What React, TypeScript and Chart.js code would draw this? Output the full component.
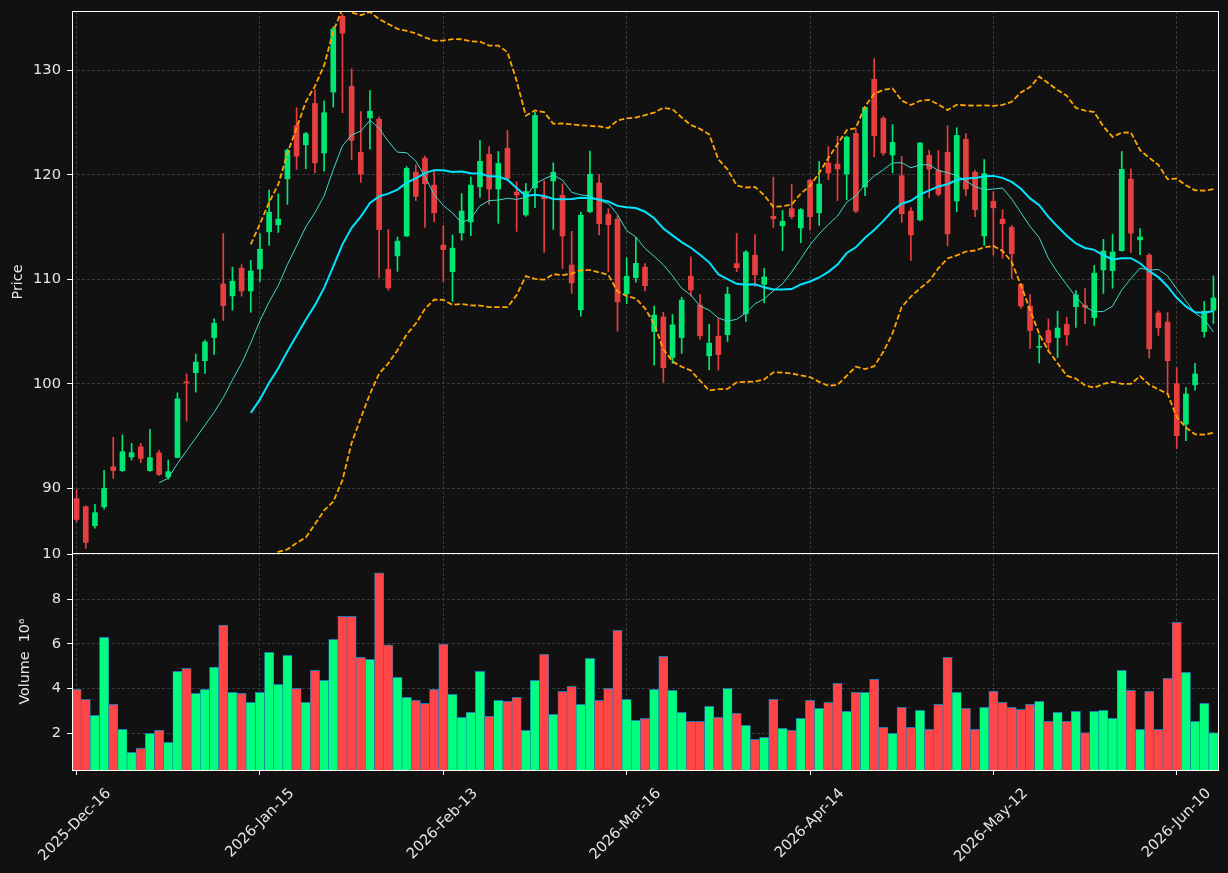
import React, { useEffect, useRef } from 'react';
import { Chart, registerables } from 'chart.js';

Chart.register(...registerables);

const DATES = [
  '2025-Dec-16','2025-Dec-17','2025-Dec-18','2025-Dec-19','2025-Dec-22','2025-Dec-23','2025-Dec-24','2025-Dec-26','2025-Dec-29','2025-Dec-30','2025-Dec-31',
  '2026-Jan-02','2026-Jan-05','2026-Jan-06','2026-Jan-07','2026-Jan-08','2026-Jan-09','2026-Jan-12','2026-Jan-13','2026-Jan-14','2026-Jan-15','2026-Jan-16','2026-Jan-20','2026-Jan-21','2026-Jan-22','2026-Jan-23','2026-Jan-26','2026-Jan-27','2026-Jan-28','2026-Jan-29','2026-Jan-30',
  '2026-Feb-02','2026-Feb-03','2026-Feb-04','2026-Feb-05','2026-Feb-06','2026-Feb-09','2026-Feb-10','2026-Feb-11','2026-Feb-12','2026-Feb-13','2026-Feb-17','2026-Feb-18','2026-Feb-19','2026-Feb-20','2026-Feb-23','2026-Feb-24','2026-Feb-25','2026-Feb-26','2026-Feb-27',
  '2026-Mar-02','2026-Mar-03','2026-Mar-04','2026-Mar-05','2026-Mar-06','2026-Mar-09','2026-Mar-10','2026-Mar-11','2026-Mar-12','2026-Mar-13','2026-Mar-16','2026-Mar-17','2026-Mar-18','2026-Mar-19','2026-Mar-20','2026-Mar-23','2026-Mar-24','2026-Mar-25','2026-Mar-26','2026-Mar-27','2026-Mar-30','2026-Mar-31',
  '2026-Apr-01','2026-Apr-02','2026-Apr-06','2026-Apr-07','2026-Apr-08','2026-Apr-09','2026-Apr-10','2026-Apr-13','2026-Apr-14','2026-Apr-15','2026-Apr-16','2026-Apr-17','2026-Apr-20','2026-Apr-21','2026-Apr-22','2026-Apr-23','2026-Apr-24','2026-Apr-27','2026-Apr-28','2026-Apr-29','2026-Apr-30',
  '2026-May-01','2026-May-04','2026-May-05','2026-May-06','2026-May-07','2026-May-08','2026-May-11','2026-May-12','2026-May-13','2026-May-14','2026-May-15','2026-May-18','2026-May-19','2026-May-20','2026-May-21','2026-May-22','2026-May-26','2026-May-27','2026-May-28','2026-May-29',
  '2026-Jun-01','2026-Jun-02','2026-Jun-03','2026-Jun-04','2026-Jun-05','2026-Jun-08','2026-Jun-09','2026-Jun-10','2026-Jun-11','2026-Jun-12','2026-Jun-15','2026-Jun-16',
];

const OPEN = [
  89.0, 88.22, 86.41, 88.22, 92.05, 91.68, 92.99, 93.96, 91.68, 93.39,
  91.07, 92.95, 100.17, 101.07, 102.21, 104.43, 109.56, 108.42, 111.07, 108.89,
  111.0, 114.56, 115.23, 119.63, 124.73, 122.89, 126.85, 122.11, 127.95, 135.2,
  128.49, 122.18, 125.47, 125.34, 110.97, 112.25, 114.16, 120.27, 121.61, 119.03,
  113.29, 110.74, 114.46, 115.5, 118.86, 121.98, 118.66, 122.55, 118.36, 116.17,
  118.76, 117.92, 119.43, 118.05, 111.38, 107.08, 116.48, 119.23, 116.24, 115.77,
  108.62, 110.17, 111.17, 105.0, 106.41, 102.52, 104.43, 110.3, 107.55, 102.68,
  104.56, 104.7, 111.51, 106.71, 112.32, 109.53, 116.04, 115.13, 116.78, 114.93,
  119.5, 116.38, 121.14, 121.04, 120.1, 123.99, 118.86, 129.16, 125.44, 121.91,
  119.93, 116.54, 115.7, 121.88, 120.47, 122.18, 117.52, 123.42, 120.27, 114.16,
  117.48, 115.77, 115.0, 109.53, 107.45, 103.49, 105.1, 104.43, 105.7, 107.38,
  107.52, 106.34, 110.91, 110.84, 112.75, 119.6, 113.79, 112.32, 106.78, 105.91,
  100.0, 96.14, 99.9, 105.0, 107.05,
];

const HIGH = [
  89.87, 88.32, 88.46, 91.71, 94.87, 95.1, 94.3, 94.3, 95.64, 93.62,
  92.7, 99.13, 100.94, 102.85, 104.19, 106.21, 114.4, 111.17, 111.41, 111.81,
  114.4, 118.56, 118.19, 122.5, 126.44, 124.09, 128.19, 127.11, 134.2, 135.4,
  130.17, 126.07, 128.09, 125.57, 114.77, 114.06, 120.81, 120.97, 121.81, 120.47,
  115.17, 114.26, 118.22, 119.8, 123.29, 122.72, 122.25, 124.26, 119.36, 119.19,
  126.01, 119.46, 121.17, 119.16, 114.6, 116.44, 122.28, 120.03, 116.78, 116.1,
  112.08, 114.03, 111.51, 107.45, 106.85, 106.64, 108.29, 112.15, 108.56, 105.7,
  106.28, 109.26, 114.4, 112.75, 114.3, 111.04, 119.8, 116.61, 119.09, 116.78,
  119.6, 121.31, 122.72, 123.72, 123.72, 124.43, 126.5, 131.14, 125.6, 124.83,
  121.78, 116.88, 123.12, 122.38, 122.35, 124.73, 124.53, 123.96, 120.47, 121.48,
  118.39, 116.68, 115.17, 109.6, 108.56, 104.7, 106.21, 106.95, 106.38, 108.93,
  109.13, 111.34, 113.83, 114.33, 122.25, 120.6, 114.87, 112.48, 106.98, 106.81,
  101.54, 99.66, 101.95, 107.89, 110.34,
];

const LOW = [
  86.74, 84.23, 86.17, 87.99, 90.94, 91.6, 92.7, 92.45, 91.6, 91.21,
  90.87, 92.9, 96.41, 99.2, 101.0, 102.82, 106.07, 107.05, 108.39, 106.85,
  109.8, 113.26, 114.5, 117.18, 120.54, 120.6, 120.2, 120.37, 126.51, 125.97,
  121.48, 119.3, 122.48, 110.2, 108.96, 110.77, 114.1, 117.55, 114.97, 115.54,
  109.8, 107.89, 113.76, 114.19, 117.85, 117.18, 115.37, 119.5, 114.6, 116.04,
  116.88, 112.58, 114.8, 111.04, 108.66, 106.48, 116.4, 114.26, 110.74, 105.03,
  107.68, 109.73, 108.89, 101.78, 100.13, 101.95, 102.92, 108.39, 104.26, 101.34,
  101.31, 104.06, 110.74, 105.97, 109.33, 107.75, 114.97, 112.75, 115.81, 113.52,
  114.73, 115.17, 119.56, 117.55, 117.62, 116.38, 118.02, 121.74, 121.88, 120.2,
  115.47, 111.81, 115.6, 117.82, 117.99, 113.22, 116.48, 117.99, 116.01, 113.26,
  112.32, 112.01, 110.07, 107.21, 103.39, 101.98, 103.02, 102.52, 103.69, 105.4,
  105.77, 105.6, 108.66, 109.16, 112.7, 112.58, 112.38, 102.45, 104.63, 98.99,
  93.79, 94.56, 99.4, 104.46, 105.77,
];

const CLOSE = [
  87.0, 84.8, 87.65, 90.0, 91.68, 93.49, 93.39, 92.85, 92.92, 91.31,
  91.58, 98.56, 100.1, 102.08, 104.0, 105.8, 107.48, 109.83, 108.89, 110.81,
  112.89, 116.44, 115.77, 122.38, 121.81, 123.96, 121.17, 125.97, 133.99, 133.59,
  123.32, 120.1, 126.11, 114.77, 109.19, 113.66, 120.64, 117.95, 119.16, 116.38,
  112.85, 112.99, 116.54, 119.03, 121.31, 118.66, 121.11, 119.66, 118.09, 118.42,
  125.7, 117.72, 120.27, 114.16, 109.66, 116.14, 120.07, 115.34, 115.23, 107.85,
  110.3, 111.54, 109.4, 106.58, 101.54, 105.64, 108.02, 108.99, 104.6, 103.89,
  102.79, 108.59, 111.11, 112.62, 110.44, 110.23, 115.81, 115.57, 116.01, 116.68,
  116.01, 119.13, 120.2, 120.57, 123.62, 116.54, 126.48, 123.76, 122.11, 123.12,
  116.28, 114.26, 123.05, 120.57, 118.15, 114.36, 123.79, 118.66, 116.68, 120.13,
  116.85, 115.34, 112.45, 107.45, 105.1, 103.56, 103.93, 105.34, 104.7, 108.51,
  107.32, 110.6, 112.72, 112.62, 120.54, 114.43, 114.06, 103.36, 105.37, 102.21,
  95.03, 99.03, 100.94, 106.95, 108.22,
];

// volume in millions (axis label "Volume 10^6")
const VOLUME = [
  3.97, 3.52, 2.81, 6.30, 3.30, 2.18, 1.15, 1.33, 2.00, 2.13,
  1.60, 4.78, 4.91, 3.79, 3.97, 4.96, 6.84, 3.84, 3.79, 3.39,
  3.84, 5.63, 4.19, 5.49, 4.01, 3.39, 4.82, 4.37, 6.21, 7.24,
  7.24, 5.40, 5.31, 9.18, 5.96, 4.51, 3.61, 3.48, 3.34, 3.97,
  5.99, 3.75, 2.72, 2.94, 4.78, 2.76, 3.48, 3.43, 3.61, 2.13,
  4.37, 5.54, 2.85, 3.88, 4.10, 3.30, 5.36, 3.48, 4.01, 6.61,
  3.52, 2.58, 2.67, 3.97, 5.45, 3.93, 2.94, 2.54, 2.54, 3.21,
  2.72, 4.01, 2.90, 2.36, 1.73, 1.82, 3.52, 2.22, 2.13, 2.67,
  3.48, 3.12, 3.39, 4.24, 2.99, 3.84, 3.84, 4.42, 2.27, 2.00,
  3.16, 2.27, 3.03, 2.18, 3.30, 5.40, 3.84, 3.12, 2.18, 3.16,
  3.88, 3.39, 3.16, 3.07, 3.30, 3.43, 2.54, 2.94, 2.54, 2.99,
  2.04, 2.99, 3.03, 2.67, 4.82, 3.93, 2.18, 3.88, 2.18, 4.46,
  6.97, 4.73, 2.54, 3.34, 2.04,
];

const X_TICK_LABELS = ['2025-Dec-16', '2026-Jan-15', '2026-Feb-13', '2026-Mar-16', '2026-Apr-14', '2026-May-12', '2026-Jun-10'];
const PRICE_TICKS = [90, 100, 110, 120, 130];
const VOLUME_TICKS = [2, 4, 6, 8, 10];
const SMA_FAST = 10;
const SMA_SLOW = 20;
const BB_K = 2;

const BG = '#111111';
const TEXT = '#e6e6e6';
const GRID = '#3a3a3a';
const UP_CANDLE = '#00e774';
const DOWN_CANDLE = '#e73f3f';
const UP_VOL = '#00ff7f';
const DOWN_VOL = '#ff4545';
const FONT = 'DejaVu Sans';

function sma(values: number[], n: number): (number | null)[] {
  return values.map((_, i) => {
    if (i < n - 1) return null;
    let s = 0;
    for (let j = i - n + 1; j <= i; j++) s += values[j];
    return s / n;
  });
}

function band(values: number[], n: number, k: number): (number | null)[] {
  const mid = sma(values, n);
  return values.map((_, i) => {
    const m = mid[i];
    if (m === null) return null;
    let v = 0;
    for (let j = i - n + 1; j <= i; j++) v += (values[j] - m) ** 2;
    return m + k * Math.sqrt(v / n);
  });
}

const framePlugin = {
  id: 'frame',
  afterDatasetsDraw(chart: any) {
    const { ctx, chartArea } = chart;
    ctx.save();
    ctx.strokeStyle = '#ffffff';
    ctx.lineWidth = 1;
    const l = Math.round(chartArea.left) + 0.5;
    const t = Math.round(chartArea.top) + 0.5;
    const r = Math.round(chartArea.right) + 0.5;
    const b = Math.round(chartArea.bottom) + 0.5;
    ctx.strokeRect(l, t, r - l, b - t);
    ctx.restore();
  },
};

const keepXTicks = (scale: any) => {
  scale.ticks = X_TICK_LABELS.map((lab) => ({ value: DATES.indexOf(lab) }));
};

const fixYAxis = (s: any) => {
  s.width = 72;
  s.paddingTop = 0;
  s.paddingBottom = 0;
};

export default function App() {
  const priceRef = useRef<HTMLCanvasElement | null>(null);
  const volRef = useRef<HTMLCanvasElement | null>(null);

  useEffect(() => {
    document.body.style.margin = '0';
    document.body.style.background = BG;
    Chart.defaults.font.family = FONT;
    Chart.defaults.color = TEXT;

    const up = CLOSE.map((c, i) => c >= OPEN[i]);
    const candleColors = up.map((u) => (u ? UP_CANDLE : DOWN_CANDLE));
    const volColors = up.map((u) => (u ? UP_VOL : DOWN_VOL));
    const smaFast = sma(CLOSE, SMA_FAST);
    const smaSlow = sma(CLOSE, SMA_SLOW);
    const bbUpper = band(CLOSE, SMA_SLOW, BB_K);
    const bbLower = band(CLOSE, SMA_SLOW, -BB_K);

    const tickFont = { family: FONT, size: 14.7 };
    const titleFont = { family: FONT, size: 14.3, lineHeight: 1.2 };

    const price = new Chart(priceRef.current as HTMLCanvasElement, {
      type: 'bar',
      data: {
        labels: DATES,
        datasets: [
          {
            type: 'line', label: 'BB upper', data: bbUpper, borderColor: '#ffa500', borderWidth: 1.8,
            borderDash: [5.5, 2.5], pointRadius: 0, tension: 0, order: 0,
          } as any,
          {
            type: 'line', label: 'BB lower', data: bbLower, borderColor: '#ffa500', borderWidth: 1.8,
            borderDash: [5.5, 2.5], pointRadius: 0, tension: 0, order: 0,
          } as any,
          {
            type: 'line', label: 'SMA20', data: smaSlow, borderColor: '#00e5ff', borderWidth: 2,
            pointRadius: 0, tension: 0, order: 1,
          } as any,
          {
            type: 'line', label: 'SMA10', data: smaFast, borderColor: '#40d8cc', borderWidth: 1,
            pointRadius: 0, tension: 0, order: 1,
          } as any,
          {
            type: 'bar', label: 'body', data: OPEN.map((o, i) => [o, CLOSE[i]]), backgroundColor: candleColors,
            barThickness: 5, grouped: false, minBarLength: 1, borderWidth: 0, order: 2,
          } as any,
          {
            type: 'bar', label: 'wick', data: LOW.map((l, i) => [l, HIGH[i]]), backgroundColor: candleColors,
            barThickness: 1, grouped: false, borderWidth: 0, order: 3,
          } as any,
        ],
      },
      options: {
        responsive: false,
        animation: false,
        events: [],
        layout: { padding: { left: 0, right: 10, top: 11, bottom: 320 } },
        plugins: { legend: { display: false }, tooltip: { enabled: false } },
        scales: {
          x: {
            type: 'category',
            offset: true,
            afterBuildTicks: keepXTicks,
            afterFit: (s: any) => { s.height = 0; s.paddingLeft = 0; s.paddingRight = 0; },
            ticks: { display: false, autoSkip: false },
            grid: { display: true, offset: false, color: GRID, lineWidth: 1, drawTicks: false },
            border: { display: false, dash: [3, 2] },
          },
          y: {
            type: 'linear',
            min: 83.79,
            max: 135.71,
            afterBuildTicks: (s: any) => { s.ticks = PRICE_TICKS.map((v) => ({ value: v })); },
            afterFit: fixYAxis,
            ticks: { color: TEXT, font: tickFont, padding: 6 },
            grid: { color: GRID, lineWidth: 1, tickColor: '#ffffff', tickLength: 5, tickWidth: 1 },
            border: { display: false, dash: [3, 2] },
            title: { display: true, text: 'Price', color: TEXT, font: titleFont, padding: { top: 10, bottom: 0 } },
          },
        },
      },
      plugins: [framePlugin],
    } as any);

    const vol = new Chart(volRef.current as HTMLCanvasElement, {
      type: 'bar',
      data: {
        labels: DATES,
        datasets: [
          {
            label: 'Volume', data: VOLUME, backgroundColor: volColors, borderColor: '#1f77b4',
            borderWidth: { top: 1, left: 0.6, right: 0.6, bottom: 0 }, borderSkipped: false,
            categoryPercentage: 1, barPercentage: 1,
          } as any,
        ],
      },
      options: {
        responsive: false,
        animation: false,
        events: [],
        layout: { padding: { left: 0, right: 10, top: 553, bottom: 0 } },
        plugins: { legend: { display: false }, tooltip: { enabled: false } },
        scales: {
          x: {
            type: 'category',
            offset: true,
            afterBuildTicks: keepXTicks,
            afterFit: (s: any) => { s.height = 103; s.paddingLeft = 0; s.paddingRight = 0; },
            ticks: { color: TEXT, font: tickFont, autoSkip: false, minRotation: 45, maxRotation: 45, labelOffset: 32, padding: 10 },
            grid: { display: true, offset: false, color: GRID, lineWidth: 1, tickColor: '#ffffff', tickLength: 5, tickWidth: 1 },
            border: { display: false, dash: [3, 2] },
          },
          y: {
            type: 'linear',
            min: 0.36,
            max: 10.07,
            afterBuildTicks: (s: any) => { s.ticks = VOLUME_TICKS.map((v) => ({ value: v })); },
            afterFit: fixYAxis,
            ticks: { color: TEXT, font: tickFont, padding: 6 },
            grid: { color: GRID, lineWidth: 1, tickColor: '#ffffff', tickLength: 5, tickWidth: 1 },
            border: { display: false, dash: [3, 2] },
            title: { display: true, text: 'Volume  10⁶', color: TEXT, font: titleFont, padding: { top: 17, bottom: 0 } },
          },
        },
      },
      plugins: [framePlugin],
    } as any);

    return () => {
      price.destroy();
      vol.destroy();
    };
  }, []);

  const canvasStyle: React.CSSProperties = { position: 'absolute', left: 0, top: 0, width: 1228, height: 873 };
  return (
    <div style={{ position: 'absolute', left: 0, top: 0, width: 1228, height: 873, background: BG, overflow: 'hidden' }}>
      <canvas ref={priceRef} width={1228} height={873} style={canvasStyle} />
      <canvas ref={volRef} width={1228} height={873} style={canvasStyle} />
    </div>
  );
}
